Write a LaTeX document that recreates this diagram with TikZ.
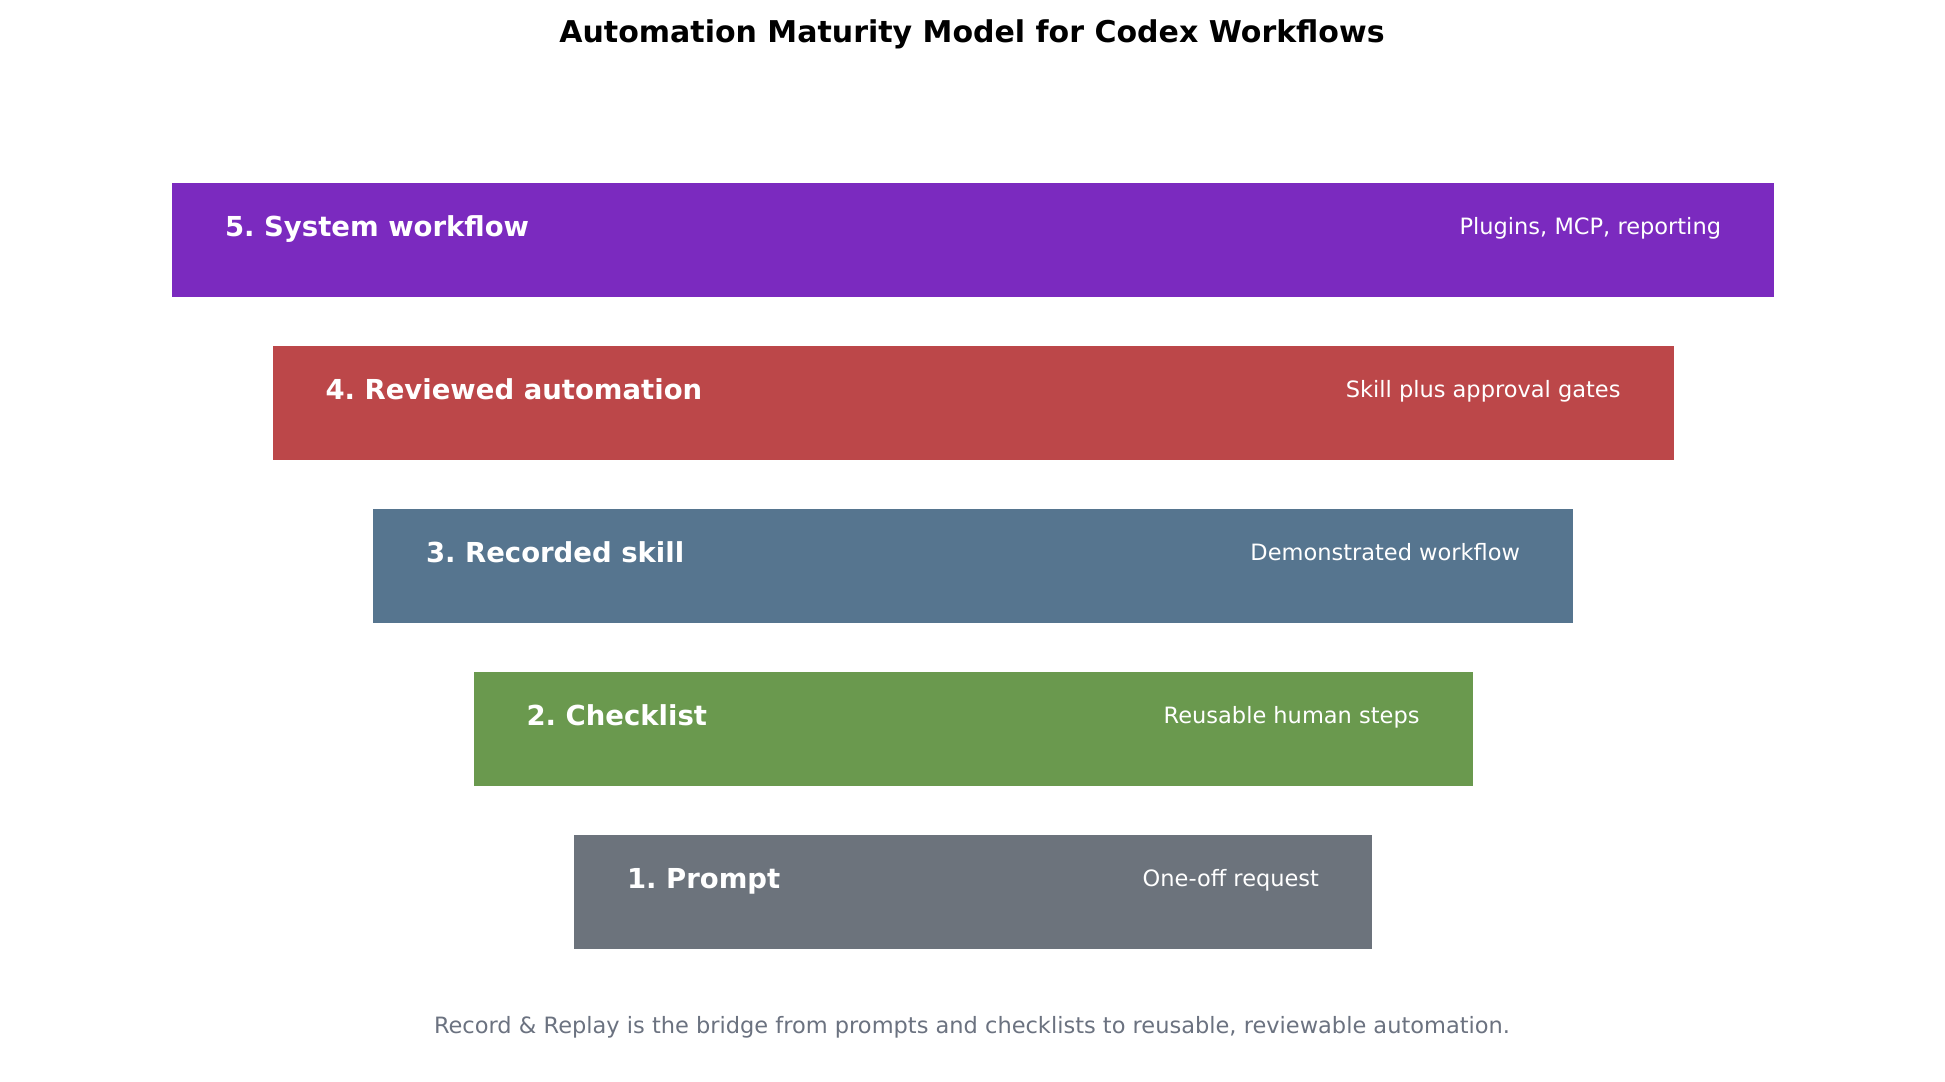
\documentclass[tikz,border=0pt]{standalone}
\usepackage{fontspec}
\setmainfont{DejaVu Sans}
\frenchspacing
\definecolor{lvlfive}{HTML}{7B2ABF}
\definecolor{lvlfour}{HTML}{BC4749}
\definecolor{lvlthree}{HTML}{56758F}
\definecolor{lvltwo}{HTML}{6A994E}
\definecolor{lvlone}{HTML}{6C737C}
\definecolor{footgray}{HTML}{6B7280}

\begin{document}
\begin{tikzpicture}[x=0.5pt, y=-0.5pt,
  bar/.style={inner sep=0pt, minimum height=57pt},
  tier/.style={anchor=base west, inner sep=0pt, text=white, font=\fontsize{13.75}{17}\selectfont\bfseries},
  desc/.style={anchor=base east, inner sep=0pt, text=white, font=\fontsize{11.25}{14}\selectfont}]
\useasboundingbox (0,0) rectangle (1945,1082);
\node[anchor=base, inner sep=0pt, font=\fontsize{15}{18}\selectfont\bfseries] (title) at (972,42) {Automation Maturity Model for Codex Workflows};
% the ladder, top step first
\foreach \n/\w/\c/\lbl/\txt [count=\i] in {
  5/801/lvlfive/System workflow/{Plugins, MCP, reporting},
  4/700.5/lvlfour/Reviewed automation/Skill plus approval gates,
  3/600/lvlthree/Recorded skill/Demonstrated workflow,
  2/499.5/lvltwo/Checklist/Reusable human steps,
  1/399/lvlone/Prompt/One-off request}
{
  \node[bar, fill=\c, minimum width=\w pt] (lvl\n) at (973,{240+163*(\i-1)}) {};
  \node[tier] (lvl\n-name) at ([shift={(53,54)}]lvl\n.north west) {\n. \lbl};
  \node[desc] (lvl\n-desc) at ([shift={(-53,52)}]lvl\n.north east) {\txt};
}
\node[anchor=base, inner sep=0pt, text=footgray, font=\fontsize{11.25}{14}\selectfont] (foot) at (972,1033) {Record \& Replay is the bridge from prompts and checklists to reusable, reviewable automation.};
\end{tikzpicture}
\end{document}
